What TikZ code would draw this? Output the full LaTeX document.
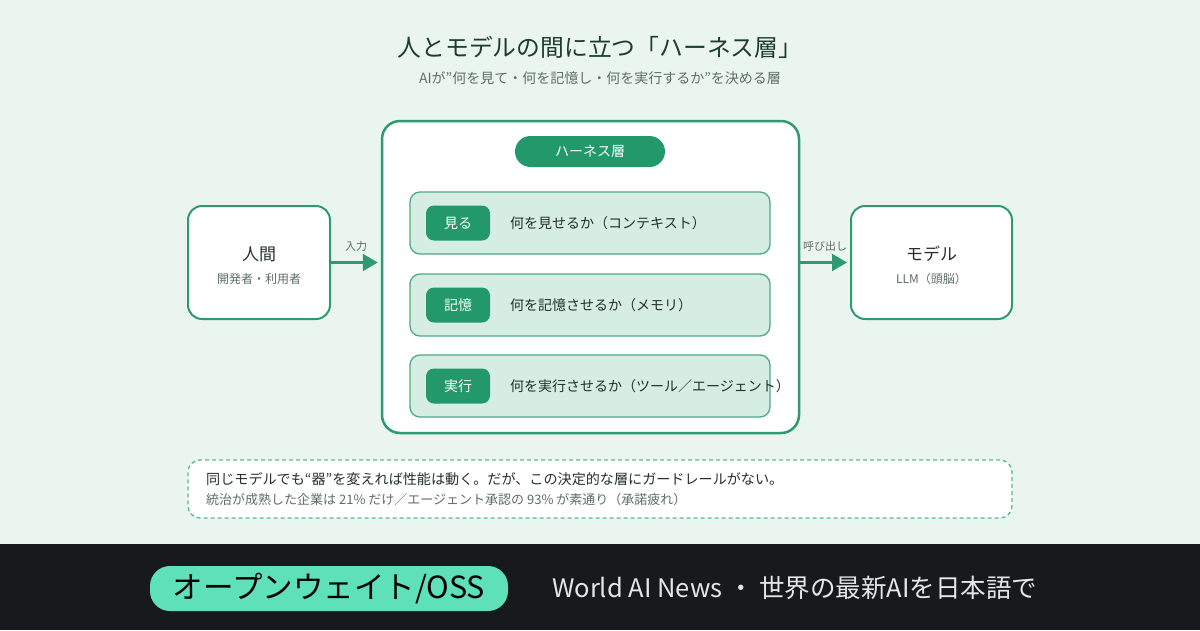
\documentclass[tikz,border=0pt]{standalone}
\usepackage{fontspec}
\setmainfont{Noto Sans CJK JP}
\usetikzlibrary{arrows.meta}
\definecolor{bg}{HTML}{EAF5EF}
\definecolor{foot}{HTML}{17191C}
\definecolor{gline}{HTML}{2F9A72}
\definecolor{gfill}{HTML}{23996B}
\definecolor{rowfill}{HTML}{D5EDE2}
\definecolor{titlec}{HTML}{1E3B32}
\definecolor{subc}{HTML}{5E6E66}
\definecolor{textc}{HTML}{25302B}
\definecolor{dashc}{HTML}{5BB896}
\definecolor{mint}{HTML}{5EE0B8}
\definecolor{foottext}{HTML}{E4E6E8}
\newcommand{\fs}[1]{\fontsize{#1}{#1}\selectfont}
\tikzset{
  box/.style={draw=gline, line width=2pt, fill=white, rounded corners=14pt, inner sep=0pt},
  rowbox/.style={draw=gline!85, line width=1.3pt, fill=rowfill, rounded corners=10pt, minimum width=360pt, minimum height=62pt, inner sep=0pt},
  tag/.style={fill=gfill, rounded corners=8pt, minimum width=64pt, minimum height=35pt, inner sep=0pt, text=white, font=\fs{14}},
  rowtext/.style={anchor=west, text=textc, font=\fs{14}, inner sep=0pt},
  flow/.style={draw=gline, line width=2.2pt, -{Triangle[length=15pt,width=17pt]}},
  lbl/.style={text=subc, font=\fs{11}, inner sep=0pt}
}
\begin{document}
\begin{tikzpicture}[x=1pt,y=-1pt]
\useasboundingbox (0,0) rectangle (1200,630);
\fill[bg] (0,0) rectangle (1200,544);
\fill[foot] (0,544) rectangle (1200,630);
% title
\node[text=titlec, font=\fs{23.8}] (title) at (600,47) {人とモデルの間に立つ「ハーネス層」};
\node[text=subc, font=\fs{14}] (sub) at (600,78) {AIが"何を見て・何を記憶し・何を実行するか"を決める層};
% left box
\node[box, minimum width=142pt, minimum height=113pt] (human) at (259,262.5) {};
\node[text=textc, font=\fs{17}] (humant) at (259,254) {人間};
\node[text=subc, font=\fs{12}] (humans) at (259,279) {開発者・利用者};
% center
\node[box, line width=2.5pt, rounded corners=18pt, minimum width=417pt, minimum height=312pt] (harness) at (590.5,277) {};
\node[fill=gfill, rounded corners=15.5pt, minimum width=150pt, minimum height=31pt, inner sep=0pt, text=white, font=\fs{14}] (pill) at (590,151.5) {ハーネス層};
\node[rowbox] (r1) at (590,223) {};
\node[rowbox] (r2) at (590,305) {};
\node[rowbox] (r3) at (590,386) {};
\node[tag] (t1) at (458,223) {見る};
\node[tag] (t2) at (458,305) {記憶};
\node[tag] (t3) at (458,386) {実行};
\node[rowtext] (x1) at (510,223) {何を見せるか（コンテキスト）};
\node[rowtext] (x2) at (510,305) {何を記憶させるか（メモリ）};
\node[rowtext] (x3) at (510,386) {何を実行させるか（ツール／エージェント）};
% right box
\node[box, minimum width=161pt, minimum height=113pt] (model) at (931.5,262.5) {};
\node[text=textc, font=\fs{17}] (modelt) at (931.5,254) {モデル};
\node[text=subc, font=\fs{12}] (models) at (931.5,279) {LLM（頭脳）};
% arrows
\draw[flow, shorten >=3pt] (human.east) -- (human.east -| harness.west);
\node[lbl] (in) at (356,246) {入力};
\draw[flow, shorten >=3pt] (harness.east |- model.west) -- (model.west);
\node[lbl] (call) at (825,246) {呼び出し};
% note
\node[draw=dashc, line width=1.3pt, dash pattern=on 4pt off 3pt, fill=white, rounded corners=12pt, minimum width=824pt, minimum height=58pt, inner sep=0pt] (note) at (600,489) {};
\node[anchor=west, text=textc, font=\fs{14.1}, inner sep=0pt] (n1) at (206,479) {同じモデルでも“器”を変えれば性能は動く。だが、この決定的な層にガードレールがない。};
\node[anchor=west, text=subc, font=\fs{13}, inner sep=0pt] (n2) at (206,500) {統治が成熟した企業は 21\% だけ／エージェント承認の 93\% が素通り（承諾疲れ）};
% footer
\node[fill=mint, rounded corners=20pt, minimum width=358pt, minimum height=45pt, inner sep=0pt, text=black, font=\fs{30.5}] (badge) at (329,588.5) {オープンウェイト/OSS};
\node[anchor=west, text=foottext, font=\fs{25.5}, inner sep=0pt] (brand) at (552,588) {World AI News ・ 世界の最新AIを日本語で};
\end{tikzpicture}
\end{document}
